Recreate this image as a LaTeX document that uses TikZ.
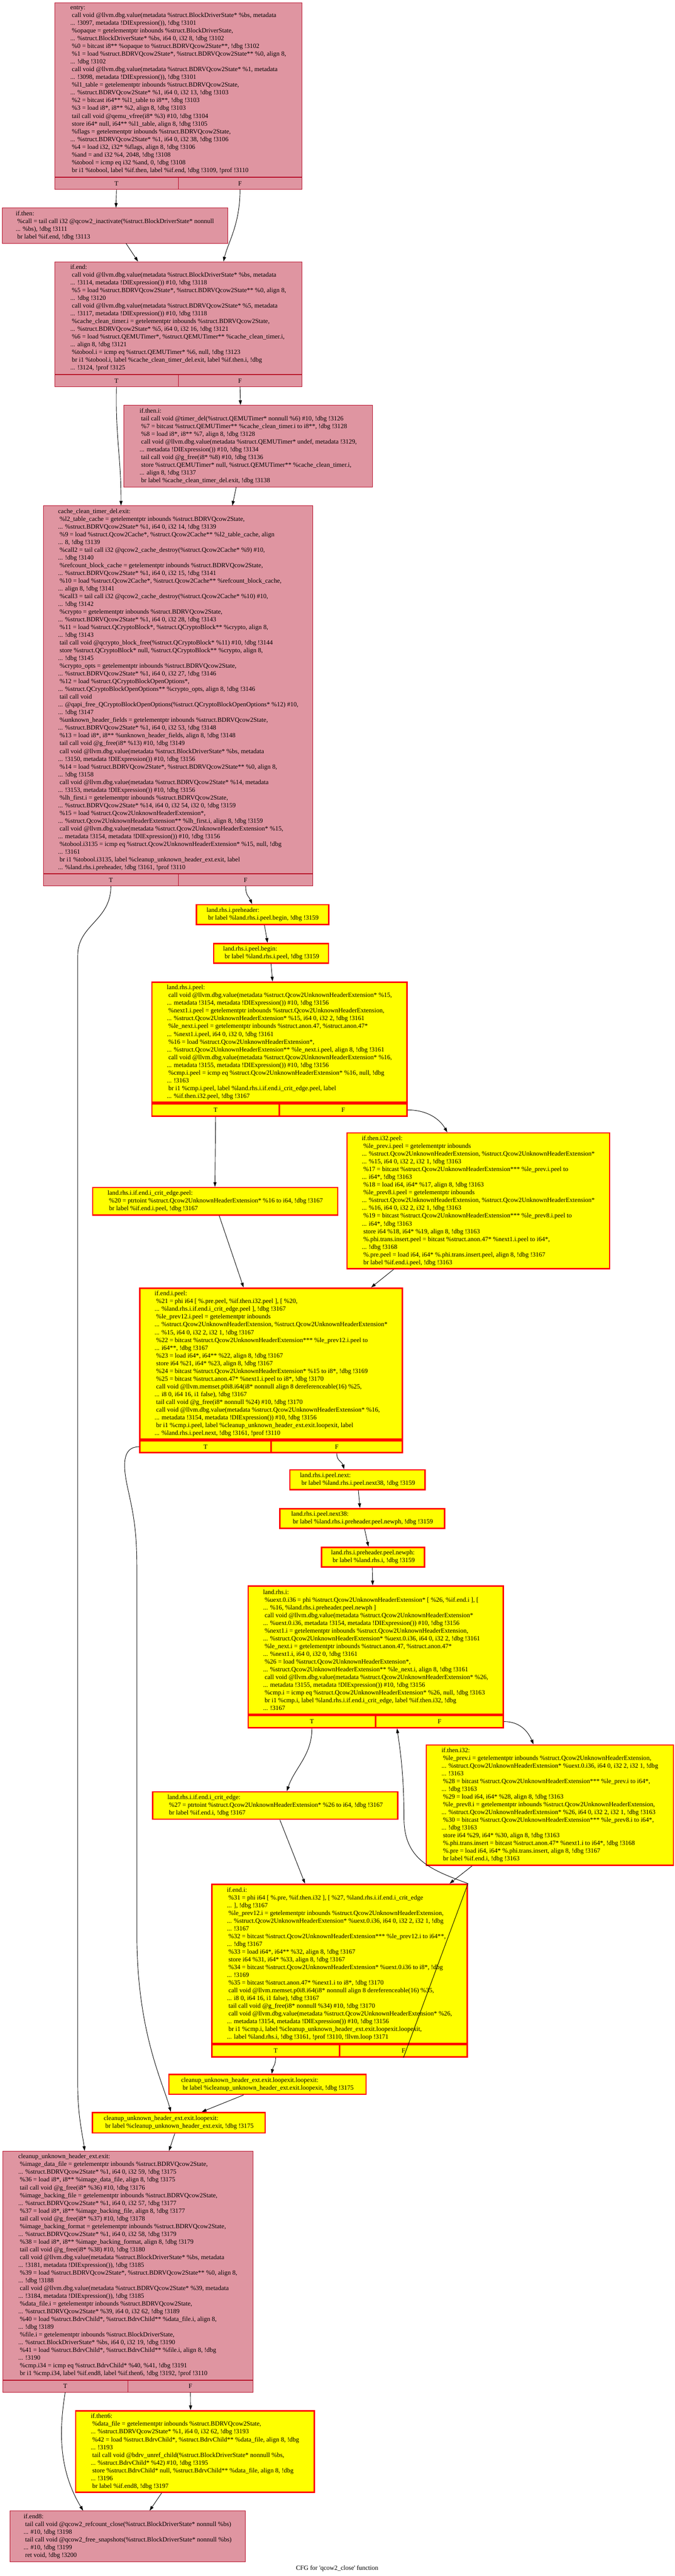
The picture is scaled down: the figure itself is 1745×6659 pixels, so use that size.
\documentclass[tikz,border=0pt]{standalone}
\usepackage{fontspec}
\setmainfont{Liberation Serif}
\usetikzlibrary{arrows.meta}
\definecolor{pkfill}{HTML}{DF95A1}
\definecolor{pkline}{HTML}{B70D28}
\definecolor{ylfill}{HTML}{FFFF00}
\definecolor{ylline}{HTML}{FF0000}
\newcommand{\lsp}{\hspace*{4pt}}
\newcommand{\tfrow}[4]{\node[#4, anchor=north west, minimum width=#2, minimum height=#3] (#1T) at (#1.south west) {T};\node[#4, anchor=north east, minimum width=#2, minimum height=#3] (#1F) at (#1.south east) {F};}
\tikzset{
  blk/.style={rectangle, align=left, inner xsep=4pt, inner ysep=0pt, anchor=north west, font=\fontsize{16.67pt}{20pt}\selectfont},
  pk/.style={blk, draw=pkline, fill=pkfill, line width=1.2pt},
  yl/.style={blk, draw=ylline, fill=ylfill, line width=3.5pt},
  pkc/.style={pk, align=center},
  ylc/.style={yl, align=center},
  cfe/.style={draw=black, line width=1.2pt, -{Triangle[length=12pt,width=8pt]}},
  captxt/.style={font=\fontsize{16.67pt}{20pt}\selectfont, inner sep=0pt}
}
\begin{document}
\begin{tikzpicture}[x=1pt,y=-1pt]
\fill[white] (0,0) rectangle (1745,6659);
\useasboundingbox (0,0) rectangle (1745,6659);

\node[pk, minimum width=639pt, minimum height=451pt] (entry) at (141,6) {entry:\\
\lsp call void @llvm.dbg.value(metadata \%struct.BlockDriverState* \%bs, metadata\\
... !3097, metadata !DIExpression()), !dbg !3101\\
\lsp\%opaque = getelementptr inbounds \%struct.BlockDriverState,\\
... \%struct.BlockDriverState* \%bs, i64 0, i32 8, !dbg !3102\\
\lsp\%0 = bitcast i8** \%opaque to \%struct.BDRVQcow2State**, !dbg !3102\\
\lsp\%1 = load \%struct.BDRVQcow2State*, \%struct.BDRVQcow2State** \%0, align 8,\\
... !dbg !3102\\
\lsp call void @llvm.dbg.value(metadata \%struct.BDRVQcow2State* \%1, metadata\\
... !3098, metadata !DIExpression()), !dbg !3101\\
\lsp\%l1\_table = getelementptr inbounds \%struct.BDRVQcow2State,\\
... \%struct.BDRVQcow2State* \%1, i64 0, i32 13, !dbg !3103\\
\lsp\%2 = bitcast i64** \%l1\_table to i8**, !dbg !3103\\
\lsp\%3 = load i8*, i8** \%2, align 8, !dbg !3103\\
\lsp tail call void @qemu\_vfree(i8* \%3) \#10, !dbg !3104\\
\lsp store i64* null, i64** \%l1\_table, align 8, !dbg !3105\\
\lsp\%flags = getelementptr inbounds \%struct.BDRVQcow2State,\\
... \%struct.BDRVQcow2State* \%1, i64 0, i32 38, !dbg !3106\\
\lsp\%4 = load i32, i32* \%flags, align 8, !dbg !3106\\
\lsp\%and = and i32 \%4, 2048, !dbg !3108\\
\lsp\%tobool = icmp eq i32 \%and, 0, !dbg !3108\\
\lsp br i1 \%tobool, label \%if.then, label \%if.end, !dbg !3109, !prof !3110};
\tfrow{entry}{319.5pt}{31pt}{pkc}

\node[pk, minimum width=583pt, minimum height=91pt] (ifthen) at (5,537) {if.then:\\
\lsp\%call = tail call i32 @qcow2\_inactivate(\%struct.BlockDriverState* nonnull\\
... \%bs), !dbg !3111\\
\lsp br label \%if.end, !dbg !3113};

\node[pk, minimum width=639pt, minimum height=291pt] (ifend) at (141,676) {if.end:\\
\lsp call void @llvm.dbg.value(metadata \%struct.BlockDriverState* \%bs, metadata\\
... !3114, metadata !DIExpression()) \#10, !dbg !3118\\
\lsp\%5 = load \%struct.BDRVQcow2State*, \%struct.BDRVQcow2State** \%0, align 8,\\
... !dbg !3120\\
\lsp call void @llvm.dbg.value(metadata \%struct.BDRVQcow2State* \%5, metadata\\
... !3117, metadata !DIExpression()) \#10, !dbg !3118\\
\lsp\%cache\_clean\_timer.i = getelementptr inbounds \%struct.BDRVQcow2State,\\
... \%struct.BDRVQcow2State* \%5, i64 0, i32 16, !dbg !3121\\
\lsp\%6 = load \%struct.QEMUTimer*, \%struct.QEMUTimer** \%cache\_clean\_timer.i,\\
... align 8, !dbg !3121\\
\lsp\%tobool.i = icmp eq \%struct.QEMUTimer* \%6, null, !dbg !3123\\
\lsp br i1 \%tobool.i, label \%cache\_clean\_timer\_del.exit, label \%if.then.i, !dbg\\
... !3124, !prof !3125};
\tfrow{ifend}{319.5pt}{31pt}{pkc}

\node[pk, minimum width=643pt, minimum height=211pt] (ifthenI) at (320,1047) {if.then.i:\\
\lsp tail call void @timer\_del(\%struct.QEMUTimer* nonnull \%6) \#10, !dbg !3126\\
\lsp\%7 = bitcast \%struct.QEMUTimer** \%cache\_clean\_timer.i to i8**, !dbg !3128\\
\lsp\%8 = load i8*, i8** \%7, align 8, !dbg !3128\\
\lsp call void @llvm.dbg.value(metadata \%struct.QEMUTimer* undef, metadata !3129,\\
... metadata !DIExpression()) \#10, !dbg !3134\\
\lsp tail call void @g\_free(i8* \%8) \#10, !dbg !3136\\
\lsp store \%struct.QEMUTimer* null, \%struct.QEMUTimer** \%cache\_clean\_timer.i,\\
... align 8, !dbg !3137\\
\lsp br label \%cache\_clean\_timer\_del.exit, !dbg !3138};

\node[pk, minimum width=697pt, minimum height=951pt] (cexit) at (112,1307) {cache\_clean\_timer\_del.exit:\\
\lsp\%l2\_table\_cache = getelementptr inbounds \%struct.BDRVQcow2State,\\
... \%struct.BDRVQcow2State* \%1, i64 0, i32 14, !dbg !3139\\
\lsp\%9 = load \%struct.Qcow2Cache*, \%struct.Qcow2Cache** \%l2\_table\_cache, align\\
... 8, !dbg !3139\\
\lsp\%call2 = tail call i32 @qcow2\_cache\_destroy(\%struct.Qcow2Cache* \%9) \#10,\\
... !dbg !3140\\
\lsp\%refcount\_block\_cache = getelementptr inbounds \%struct.BDRVQcow2State,\\
... \%struct.BDRVQcow2State* \%1, i64 0, i32 15, !dbg !3141\\
\lsp\%10 = load \%struct.Qcow2Cache*, \%struct.Qcow2Cache** \%refcount\_block\_cache,\\
... align 8, !dbg !3141\\
\lsp\%call3 = tail call i32 @qcow2\_cache\_destroy(\%struct.Qcow2Cache* \%10) \#10,\\
... !dbg !3142\\
\lsp\%crypto = getelementptr inbounds \%struct.BDRVQcow2State,\\
... \%struct.BDRVQcow2State* \%1, i64 0, i32 28, !dbg !3143\\
\lsp\%11 = load \%struct.QCryptoBlock*, \%struct.QCryptoBlock** \%crypto, align 8,\\
... !dbg !3143\\
\lsp tail call void @qcrypto\_block\_free(\%struct.QCryptoBlock* \%11) \#10, !dbg !3144\\
\lsp store \%struct.QCryptoBlock* null, \%struct.QCryptoBlock** \%crypto, align 8,\\
... !dbg !3145\\
\lsp\%crypto\_opts = getelementptr inbounds \%struct.BDRVQcow2State,\\
... \%struct.BDRVQcow2State* \%1, i64 0, i32 27, !dbg !3146\\
\lsp\%12 = load \%struct.QCryptoBlockOpenOptions*,\\
... \%struct.QCryptoBlockOpenOptions** \%crypto\_opts, align 8, !dbg !3146\\
\lsp tail call void\\
... @qapi\_free\_QCryptoBlockOpenOptions(\%struct.QCryptoBlockOpenOptions* \%12) \#10,\\
... !dbg !3147\\
\lsp\%unknown\_header\_fields = getelementptr inbounds \%struct.BDRVQcow2State,\\
... \%struct.BDRVQcow2State* \%1, i64 0, i32 53, !dbg !3148\\
\lsp\%13 = load i8*, i8** \%unknown\_header\_fields, align 8, !dbg !3148\\
\lsp tail call void @g\_free(i8* \%13) \#10, !dbg !3149\\
\lsp call void @llvm.dbg.value(metadata \%struct.BlockDriverState* \%bs, metadata\\
... !3150, metadata !DIExpression()) \#10, !dbg !3156\\
\lsp\%14 = load \%struct.BDRVQcow2State*, \%struct.BDRVQcow2State** \%0, align 8,\\
... !dbg !3158\\
\lsp call void @llvm.dbg.value(metadata \%struct.BDRVQcow2State* \%14, metadata\\
... !3153, metadata !DIExpression()) \#10, !dbg !3156\\
\lsp\%lh\_first.i = getelementptr inbounds \%struct.BDRVQcow2State,\\
... \%struct.BDRVQcow2State* \%14, i64 0, i32 54, i32 0, !dbg !3159\\
\lsp\%15 = load \%struct.Qcow2UnknownHeaderExtension*,\\
... \%struct.Qcow2UnknownHeaderExtension** \%lh\_first.i, align 8, !dbg !3159\\
\lsp call void @llvm.dbg.value(metadata \%struct.Qcow2UnknownHeaderExtension* \%15,\\
... metadata !3154, metadata !DIExpression()) \#10, !dbg !3156\\
\lsp\%tobool.i3135 = icmp eq \%struct.Qcow2UnknownHeaderExtension* \%15, null, !dbg\\
... !3161\\
\lsp br i1 \%tobool.i3135, label \%cleanup\_unknown\_header\_ext.exit, label\\
... \%land.rhs.i.preheader, !dbg !3161, !prof !3110};
\tfrow{cexit}{348.5pt}{30pt}{pkc}

\node[yl, minimum width=343pt, minimum height=51pt] (lrpre) at (506,2337) {land.rhs.i.preheader:\\
\lsp br label \%land.rhs.i.peel.begin, !dbg !3159};

\node[yl, minimum width=297pt, minimum height=51pt] (pbegin) at (551,2437) {land.rhs.i.peel.begin:\\
\lsp br label \%land.rhs.i.peel, !dbg !3159};

\node[yl, minimum width=660pt, minimum height=311pt] (lpeel) at (391,2537) {land.rhs.i.peel:\\
\lsp call void @llvm.dbg.value(metadata \%struct.Qcow2UnknownHeaderExtension* \%15,\\
... metadata !3154, metadata !DIExpression()) \#10, !dbg !3156\\
\lsp\%next1.i.peel = getelementptr inbounds \%struct.Qcow2UnknownHeaderExtension,\\
... \%struct.Qcow2UnknownHeaderExtension* \%15, i64 0, i32 2, !dbg !3161\\
\lsp\%le\_next.i.peel = getelementptr inbounds \%struct.anon.47, \%struct.anon.47*\\
... \%next1.i.peel, i64 0, i32 0, !dbg !3161\\
\lsp\%16 = load \%struct.Qcow2UnknownHeaderExtension*,\\
... \%struct.Qcow2UnknownHeaderExtension** \%le\_next.i.peel, align 8, !dbg !3161\\
\lsp call void @llvm.dbg.value(metadata \%struct.Qcow2UnknownHeaderExtension* \%16,\\
... metadata !3155, metadata !DIExpression()) \#10, !dbg !3156\\
\lsp\%cmp.i.peel = icmp eq \%struct.Qcow2UnknownHeaderExtension* \%16, null, !dbg\\
... !3163\\
\lsp br i1 \%cmp.i.peel, label \%land.rhs.i.if.end.i\_crit\_edge.peel, label\\
... \%if.then.i32.peel, !dbg !3167};
\tfrow{lpeel}{330pt}{32pt}{ylc}

\node[yl, minimum width=679pt, minimum height=351pt] (tpeel) at (896,2927) {if.then.i32.peel:\\
\lsp\%le\_prev.i.peel = getelementptr inbounds\\
... \%struct.Qcow2UnknownHeaderExtension, \%struct.Qcow2UnknownHeaderExtension*\\
... \%15, i64 0, i32 2, i32 1, !dbg !3163\\
\lsp\%17 = bitcast \%struct.Qcow2UnknownHeaderExtension*** \%le\_prev.i.peel to\\
... i64*, !dbg !3163\\
\lsp\%18 = load i64, i64* \%17, align 8, !dbg !3163\\
\lsp\%le\_prev8.i.peel = getelementptr inbounds\\
... \%struct.Qcow2UnknownHeaderExtension, \%struct.Qcow2UnknownHeaderExtension*\\
... \%16, i64 0, i32 2, i32 1, !dbg !3163\\
\lsp\%19 = bitcast \%struct.Qcow2UnknownHeaderExtension*** \%le\_prev8.i.peel to\\
... i64*, !dbg !3163\\
\lsp store i64 \%18, i64* \%19, align 8, !dbg !3163\\
\lsp\%.phi.trans.insert.peel = bitcast \%struct.anon.47* \%next1.i.peel to i64*,\\
... !dbg !3168\\
\lsp\%.pre.peel = load i64, i64* \%.phi.trans.insert.peel, align 8, !dbg !3167\\
\lsp br label \%if.end.i.peel, !dbg !3163};

\node[yl, minimum width=634pt, minimum height=71pt] (cpeel) at (238,3068) {land.rhs.i.if.end.i\_crit\_edge.peel:\\
\lsp\%20 = ptrtoint \%struct.Qcow2UnknownHeaderExtension* \%16 to i64, !dbg !3167\\
\lsp br label \%if.end.i.peel, !dbg !3167};

\node[yl, minimum width=679pt, minimum height=391pt] (epeel) at (360,3328) {if.end.i.peel:\\
\lsp\%21 = phi i64 [ \%.pre.peel, \%if.then.i32.peel ], [ \%20,\\
... \%land.rhs.i.if.end.i\_crit\_edge.peel ], !dbg !3167\\
\lsp\%le\_prev12.i.peel = getelementptr inbounds\\
... \%struct.Qcow2UnknownHeaderExtension, \%struct.Qcow2UnknownHeaderExtension*\\
... \%15, i64 0, i32 2, i32 1, !dbg !3167\\
\lsp\%22 = bitcast \%struct.Qcow2UnknownHeaderExtension*** \%le\_prev12.i.peel to\\
... i64**, !dbg !3167\\
\lsp\%23 = load i64*, i64** \%22, align 8, !dbg !3167\\
\lsp store i64 \%21, i64* \%23, align 8, !dbg !3167\\
\lsp\%24 = bitcast \%struct.Qcow2UnknownHeaderExtension* \%15 to i8*, !dbg !3169\\
\lsp\%25 = bitcast \%struct.anon.47* \%next1.i.peel to i8*, !dbg !3170\\
\lsp call void @llvm.memset.p0i8.i64(i8* nonnull align 8 dereferenceable(16) \%25,\\
... i8 0, i64 16, i1 false), !dbg !3167\\
\lsp tail call void @g\_free(i8* nonnull \%24) \#10, !dbg !3170\\
\lsp call void @llvm.dbg.value(metadata \%struct.Qcow2UnknownHeaderExtension* \%16,\\
... metadata !3154, metadata !DIExpression()) \#10, !dbg !3156\\
\lsp br i1 \%cmp.i.peel, label \%cleanup\_unknown\_header\_ext.exit.loopexit, label\\
... \%land.rhs.i.peel.next, !dbg !3161, !prof !3110};
\tfrow{epeel}{339.5pt}{31pt}{ylc}

\node[yl, minimum width=350pt, minimum height=51pt] (pnext) at (748,3798) {land.rhs.i.peel.next:\\
\lsp br label \%land.rhs.i.peel.next38, !dbg !3159};

\node[yl, minimum width=426pt, minimum height=51pt] (pnext38) at (722,3898) {land.rhs.i.peel.next38:\\
\lsp br label \%land.rhs.i.preheader.peel.newph, !dbg !3159};

\node[yl, minimum width=266pt, minimum height=51pt] (newph) at (830,3998) {land.rhs.i.preheader.peel.newph:\\
\lsp br label \%land.rhs.i, !dbg !3159};

\node[yl, minimum width=660pt, minimum height=331pt] (lrhs) at (640,4098) {land.rhs.i:\\
\lsp\%uext.0.i36 = phi \%struct.Qcow2UnknownHeaderExtension* [ \%26, \%if.end.i ], [\\
... \%16, \%land.rhs.i.preheader.peel.newph ]\\
\lsp call void @llvm.dbg.value(metadata \%struct.Qcow2UnknownHeaderExtension*\\
... \%uext.0.i36, metadata !3154, metadata !DIExpression()) \#10, !dbg !3156\\
\lsp\%next1.i = getelementptr inbounds \%struct.Qcow2UnknownHeaderExtension,\\
... \%struct.Qcow2UnknownHeaderExtension* \%uext.0.i36, i64 0, i32 2, !dbg !3161\\
\lsp\%le\_next.i = getelementptr inbounds \%struct.anon.47, \%struct.anon.47*\\
... \%next1.i, i64 0, i32 0, !dbg !3161\\
\lsp\%26 = load \%struct.Qcow2UnknownHeaderExtension*,\\
... \%struct.Qcow2UnknownHeaderExtension** \%le\_next.i, align 8, !dbg !3161\\
\lsp call void @llvm.dbg.value(metadata \%struct.Qcow2UnknownHeaderExtension* \%26,\\
... metadata !3155, metadata !DIExpression()) \#10, !dbg !3156\\
\lsp\%cmp.i = icmp eq \%struct.Qcow2UnknownHeaderExtension* \%26, null, !dbg !3163\\
\lsp br i1 \%cmp.i, label \%land.rhs.i.if.end.i\_crit\_edge, label \%if.then.i32, !dbg\\
... !3167};
\tfrow{lrhs}{330pt}{32pt}{ylc}

\node[yl, minimum width=639pt, minimum height=311pt] (then32) at (1101,4509) {if.then.i32:\\
\lsp\%le\_prev.i = getelementptr inbounds \%struct.Qcow2UnknownHeaderExtension,\\
... \%struct.Qcow2UnknownHeaderExtension* \%uext.0.i36, i64 0, i32 2, i32 1, !dbg\\
... !3163\\
\lsp\%28 = bitcast \%struct.Qcow2UnknownHeaderExtension*** \%le\_prev.i to i64*,\\
... !dbg !3163\\
\lsp\%29 = load i64, i64* \%28, align 8, !dbg !3163\\
\lsp\%le\_prev8.i = getelementptr inbounds \%struct.Qcow2UnknownHeaderExtension,\\
... \%struct.Qcow2UnknownHeaderExtension* \%26, i64 0, i32 2, i32 1, !dbg !3163\\
\lsp\%30 = bitcast \%struct.Qcow2UnknownHeaderExtension*** \%le\_prev8.i to i64*,\\
... !dbg !3163\\
\lsp store i64 \%29, i64* \%30, align 8, !dbg !3163\\
\lsp\%.phi.trans.insert = bitcast \%struct.anon.47* \%next1.i to i64*, !dbg !3168\\
\lsp\%.pre = load i64, i64* \%.phi.trans.insert, align 8, !dbg !3167\\
\lsp br label \%if.end.i, !dbg !3163};

\node[yl, minimum width=634pt, minimum height=71pt] (crit) at (393,4630) {land.rhs.i.if.end.i\_crit\_edge:\\
\lsp\%27 = ptrtoint \%struct.Qcow2UnknownHeaderExtension* \%26 to i64, !dbg !3167\\
\lsp br label \%if.end.i, !dbg !3167};

\node[yl, minimum width=661pt, minimum height=411pt] (endi) at (546,4869) {if.end.i:\\
\lsp\%31 = phi i64 [ \%.pre, \%if.then.i32 ], [ \%27, \%land.rhs.i.if.end.i\_crit\_edge\\
... ], !dbg !3167\\
\lsp\%le\_prev12.i = getelementptr inbounds \%struct.Qcow2UnknownHeaderExtension,\\
... \%struct.Qcow2UnknownHeaderExtension* \%uext.0.i36, i64 0, i32 2, i32 1, !dbg\\
... !3167\\
\lsp\%32 = bitcast \%struct.Qcow2UnknownHeaderExtension*** \%le\_prev12.i to i64**,\\
... !dbg !3167\\
\lsp\%33 = load i64*, i64** \%32, align 8, !dbg !3167\\
\lsp store i64 \%31, i64* \%33, align 8, !dbg !3167\\
\lsp\%34 = bitcast \%struct.Qcow2UnknownHeaderExtension* \%uext.0.i36 to i8*, !dbg\\
... !3169\\
\lsp\%35 = bitcast \%struct.anon.47* \%next1.i to i8*, !dbg !3170\\
\lsp call void @llvm.memset.p0i8.i64(i8* nonnull align 8 dereferenceable(16) \%35,\\
... i8 0, i64 16, i1 false), !dbg !3167\\
\lsp tail call void @g\_free(i8* nonnull \%34) \#10, !dbg !3170\\
\lsp call void @llvm.dbg.value(metadata \%struct.Qcow2UnknownHeaderExtension* \%26,\\
... metadata !3154, metadata !DIExpression()) \#10, !dbg !3156\\
\lsp br i1 \%cmp.i, label \%cleanup\_unknown\_header\_ext.exit.loopexit.loopexit,\\
... label \%land.rhs.i, !dbg !3161, !prof !3110, !llvm.loop !3171};
\tfrow{endi}{330.5pt}{32pt}{ylc}

\node[yl, minimum width=510pt, minimum height=51pt] (lex2) at (435,5361) {cleanup\_unknown\_header\_ext.exit.loopexit.loopexit:\\
\lsp br label \%cleanup\_unknown\_header\_ext.exit.loopexit, !dbg !3175};

\node[yl, minimum width=447pt, minimum height=53pt] (lex1) at (237,5459) {cleanup\_unknown\_header\_ext.exit.loopexit:\\
\lsp br label \%cleanup\_unknown\_header\_ext.exit, !dbg !3175};

\node[pk, minimum width=648pt, minimum height=591pt] (cuexit) at (6,5560) {cleanup\_unknown\_header\_ext.exit:\\
\lsp\%image\_data\_file = getelementptr inbounds \%struct.BDRVQcow2State,\\
... \%struct.BDRVQcow2State* \%1, i64 0, i32 59, !dbg !3175\\
\lsp\%36 = load i8*, i8** \%image\_data\_file, align 8, !dbg !3175\\
\lsp tail call void @g\_free(i8* \%36) \#10, !dbg !3176\\
\lsp\%image\_backing\_file = getelementptr inbounds \%struct.BDRVQcow2State,\\
... \%struct.BDRVQcow2State* \%1, i64 0, i32 57, !dbg !3177\\
\lsp\%37 = load i8*, i8** \%image\_backing\_file, align 8, !dbg !3177\\
\lsp tail call void @g\_free(i8* \%37) \#10, !dbg !3178\\
\lsp\%image\_backing\_format = getelementptr inbounds \%struct.BDRVQcow2State,\\
... \%struct.BDRVQcow2State* \%1, i64 0, i32 58, !dbg !3179\\
\lsp\%38 = load i8*, i8** \%image\_backing\_format, align 8, !dbg !3179\\
\lsp tail call void @g\_free(i8* \%38) \#10, !dbg !3180\\
\lsp call void @llvm.dbg.value(metadata \%struct.BlockDriverState* \%bs, metadata\\
... !3181, metadata !DIExpression()), !dbg !3185\\
\lsp\%39 = load \%struct.BDRVQcow2State*, \%struct.BDRVQcow2State** \%0, align 8,\\
... !dbg !3188\\
\lsp call void @llvm.dbg.value(metadata \%struct.BDRVQcow2State* \%39, metadata\\
... !3184, metadata !DIExpression()), !dbg !3185\\
\lsp\%data\_file.i = getelementptr inbounds \%struct.BDRVQcow2State,\\
... \%struct.BDRVQcow2State* \%39, i64 0, i32 62, !dbg !3189\\
\lsp\%40 = load \%struct.BdrvChild*, \%struct.BdrvChild** \%data\_file.i, align 8,\\
... !dbg !3189\\
\lsp\%file.i = getelementptr inbounds \%struct.BlockDriverState,\\
... \%struct.BlockDriverState* \%bs, i64 0, i32 19, !dbg !3190\\
\lsp\%41 = load \%struct.BdrvChild*, \%struct.BdrvChild** \%file.i, align 8, !dbg\\
... !3190\\
\lsp\%cmp.i34 = icmp eq \%struct.BdrvChild* \%40, \%41, !dbg !3191\\
\lsp br i1 \%cmp.i34, label \%if.end8, label \%if.then6, !dbg !3192, !prof !3110};
\tfrow{cuexit}{324pt}{31pt}{pkc}

\node[yl, minimum width=617pt, minimum height=211pt] (then6) at (194,6230) {if.then6:\\
\lsp\%data\_file = getelementptr inbounds \%struct.BDRVQcow2State,\\
... \%struct.BDRVQcow2State* \%1, i64 0, i32 62, !dbg !3193\\
\lsp\%42 = load \%struct.BdrvChild*, \%struct.BdrvChild** \%data\_file, align 8, !dbg\\
... !3193\\
\lsp tail call void @bdrv\_unref\_child(\%struct.BlockDriverState* nonnull \%bs,\\
... \%struct.BdrvChild* \%42) \#10, !dbg !3195\\
\lsp store \%struct.BdrvChild* null, \%struct.BdrvChild** \%data\_file, align 8, !dbg\\
... !3196\\
\lsp br label \%if.end8, !dbg !3197};

\node[pk, minimum width=609pt, minimum height=131pt] (end8) at (25,6490) {if.end8:\\
\lsp tail call void @qcow2\_refcount\_close(\%struct.BlockDriverState* nonnull \%bs)\\
... \#10, !dbg !3198\\
\lsp tail call void @qcow2\_free\_snapshots(\%struct.BlockDriverState* nonnull \%bs)\\
... \#10, !dbg !3199\\
\lsp ret void, !dbg !3200};

\node[captxt] (cap) at (872,6640) {CFG for \textquotesingle qcow2\_close\textquotesingle\ function};

\draw[cfe] (entryT.south) -- ([xshift=295pt]ifthen.north west);
\draw[cfe] (entryF.south) .. controls +(0,90) and +(12,-50) .. ([xshift=437pt]ifend.north west);
\draw[cfe] ([xshift=321pt]ifthen.south west) -- ([xshift=216pt]ifend.north west);
\draw[cfe] (ifendT.south) .. controls +(-3,130) and +(0,-130) .. ([xshift=201pt]cexit.north west);
\draw[cfe] (ifendF.south) -- ([xshift=302pt]ifthenI.north west);
\draw[cfe] ([xshift=291pt]ifthenI.south west) -- ([xshift=489pt]cexit.north west);
\draw[cfe] (cexitT.south) .. controls +(0,90) and +(0,-80) .. (201,2470) -- (201,5390) .. controls (201,5470) and (214,5520) .. ([xshift=213pt]cuexit.north west);
\draw[cfe] (cexitF.south) .. controls +(0,25) and +(-8,-20) .. ([xshift=146pt]lrpre.north west);
\draw[cfe] ([xshift=178pt]lrpre.south west) -- ([xshift=141pt]pbegin.north west);
\draw[cfe] ([xshift=150pt]pbegin.south west) -- ([xshift=314pt]lpeel.north west);
\draw[cfe] (lpeelT.south) -- ([xshift=318pt]cpeel.north west);
\draw[cfe] (lpeelF.east) .. controls +(50,0) and +(-20,-35) .. ([xshift=261pt]tpeel.north west);
\draw[cfe] ([xshift=329pt]cpeel.south west) -- ([xshift=270pt]epeel.north west);
\draw[cfe] ([xshift=122pt]tpeel.south west) -- ([xshift=600pt]epeel.north west);
\draw[cfe] (epeelT.west) .. controls +(-45,0) and (318,3790) .. (330,3845) .. controls (343,3905) and (354,3950) .. (354,4050) -- (354,5000) .. controls (354,5250) and (420,5380) .. ([xshift=205pt]lex1.north west);
\draw[cfe] (epeelF.south) .. controls +(0,20) and +(-5,-20) .. ([xshift=142pt]pnext.north west);
\draw[cfe] ([xshift=179pt]pnext.south west) -- ([xshift=209pt]pnext38.north west);
\draw[cfe] ([xshift=221pt]pnext38.south west) -- ([xshift=123pt]newph.north west);
\draw[cfe] ([xshift=133pt]newph.south west) -- ([xshift=324pt]lrhs.north west);
\draw[cfe] (lrhsT.south) .. controls +(0,70) and +(20,-60) .. ([xshift=349pt]crit.north west);
\draw[cfe] (lrhsF.east) .. controls +(40,0) and +(-15,-35) .. ([xshift=279pt]then32.north west);
\draw[cfe] ([xshift=331pt]crit.south west) -- ([xshift=243pt]endi.north west);
\draw[cfe] ([xshift=120pt]then32.south west) -- ([xshift=617pt]endi.north west);
\draw[cfe] (endiF.south) -- (endi.north east) .. controls (1120,4835) and (1045,4810) .. (1045,4700) .. controls (1045,4580) and (1033,4510) .. ([xshift=57pt]lrhsF.south west);
\draw[cfe] (endiT.south) .. controls +(0,20) and +(3,-20) .. ([xshift=268pt]lex2.north west);
\draw[cfe] ([xshift=195pt]lex2.south west) -- ([xshift=285pt]lex1.north west);
\draw[cfe] ([xshift=215pt]lex1.south west) -- ([xshift=431pt]cuexit.north west);
\draw[cfe] (cuexitT.south) .. controls +(-18,110) and +(-60,-100) .. ([xshift=190pt]end8.north west);
\draw[cfe] (cuexitF.south) -- ([xshift=299pt]then6.north west);
\draw[cfe] ([xshift=224pt]then6.south west) -- ([xshift=362pt]end8.north west);
\end{tikzpicture}
\end{document}
